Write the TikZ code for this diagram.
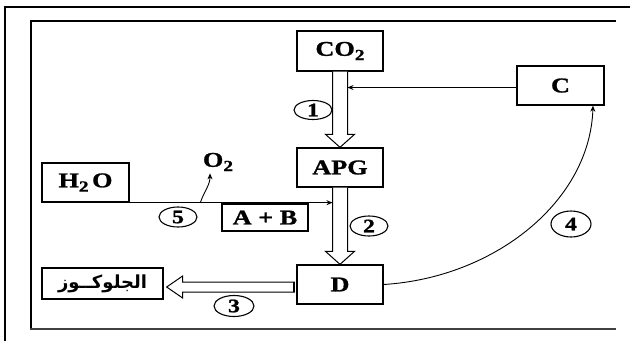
\documentclass[tikz,border=0pt]{standalone}
\usepackage{fontspec}
\setmainfont{Liberation Serif}[FakeStretch=1.25, BoldFeatures={FakeBold=1.2}]
\newfontfamily\arabicfont[Script=Arabic]{DejaVu Sans}
\TeXXeTstate=1
\usetikzlibrary{shapes.geometric,arrows.meta,calc}

% lowered index digit
\newcommand\dn[1]{\raisebox{-.45ex}{\fontsize{15.5}{15.5}\selectfont #1}}

\tikzset{
  box/.style={draw, line width=1.3pt, inner sep=0pt, font=\bfseries\fontsize{21}{23}\selectfont},
  stage/.style={ellipse, draw, line width=1.1pt, inner sep=0pt, minimum width=38pt, minimum height=19pt, font=\bfseries\fontsize{19}{19}\selectfont},
  flow/.style={-{Stealth[length=6pt,width=5pt]}, line width=0.9pt},
  hollow/.style={draw, fill=white, line width=1pt, line join=miter},
}

% hollow arrow going down from #1 to #2
\newcommand\downhollow[2]{%
  \draw[hollow] ($(#1.south)+(-7.5,0)$) -- ($(#2.north)+(-7.5,-13)$) -- ($(#2.north)+(-14.5,-13)$)
    -- (#2.north) -- ($(#2.north)+(14.5,-13)$) -- ($(#2.north)+(7.5,-13)$) -- ($(#1.south)+(7.5,0)$);}

\begin{document}
\begin{tikzpicture}[x=1pt, y=-1pt]
  \useasboundingbox (0,0) rectangle (630,341);

  % frames
  \draw[line width=2.2pt] (5,341) -- (5,7) -- (630,7);
  \draw[line width=1.5pt] (616,21) -- (31,21) -- (31,329);
  \draw[line width=2.2pt, black!75] (30.25,329) -- (616,329);

  % boxes
  \node[box, minimum width=86pt, minimum height=40pt] (co2) at (340,51) {CO\dn{2}};
  \node[box, minimum width=87pt, minimum height=39pt] (cc) at (560.5,85.5) {C};
  \node[box, minimum width=86pt, minimum height=39pt] (apg) at (340,167.5) {APG};
  \node[box, minimum width=86pt, minimum height=39pt] (dd) at (340,284.5) {D};
  \node[box, minimum width=87pt, minimum height=39pt] (h2o) at (85.5,182.5) {H\dn{2}\,O};
  \node[box, minimum width=86pt, minimum height=27pt] (ab) at (265,217.5) {A + B};
  \node[box, minimum width=121pt, minimum height=31pt, font=\arabicfont\bfseries\fontsize{18}{20}\selectfont] (glu) at (102.5,283.5) {\beginR الجلوكــوز\endR};
  \node[font=\bfseries\fontsize{21}{23}\selectfont, inner sep=0pt] (o2) at (218,162) {O\dn{2}};

  % stages
  \node[stage] (s1) at (313,110) {1};
  \node[stage, minimum height=20pt] (s2) at (369,226) {2};
  \node[stage, minimum width=40pt, minimum height=21pt] (s3) at (234,306) {3};
  \node[stage, minimum width=40pt, minimum height=26pt] (s4) at (571,224) {4};
  \node[stage, minimum height=20pt] (s5) at (178,217) {5};

  % hollow arrows
  \downhollow{co2}{apg}
  \downhollow{apg}{dd}
  \coordinate (gtip) at ($(glu.east)+(3,3.5)$);
  \draw[hollow] (gtip) -- ++(16,-11) -- ++(0,6) -- ($(dd.west |- gtip)+(-2,-5)$) -- ++(0,10)
    -- ($(gtip)+(16,5)$) -- ++(0,6) -- cycle;
  \draw[line width=2.5pt] ($(dd.west |- gtip)+(-2.5,-5)$) -- ++(0,10);

  % thin arrows
  \draw[flow] (h2o.south west) -- ($(h2o.south west -| apg.south)+(-7.5,0)$);
  \coordinate (o2foot) at ($(h2o.south west)+(159,0)$);
  \coordinate (o2tip) at ($(o2.south)+(-8,2)$);
  \draw[flow] (o2foot) .. controls ($(o2foot)+(4,-12)$) and ($(o2tip)+(0,12)$) .. (o2tip);
  \draw[flow] ($(cc.west)+(0,2)$) -- ($(cc.west -| co2.south)+(7.5,2)$);
  \draw[flow] (dd.east) .. controls ($(dd.east)+(112,-7)$) and ($(cc.south)+(29.5,95)$) .. ($(cc.south)+(32.5,0)$);
\end{tikzpicture}
\end{document}
